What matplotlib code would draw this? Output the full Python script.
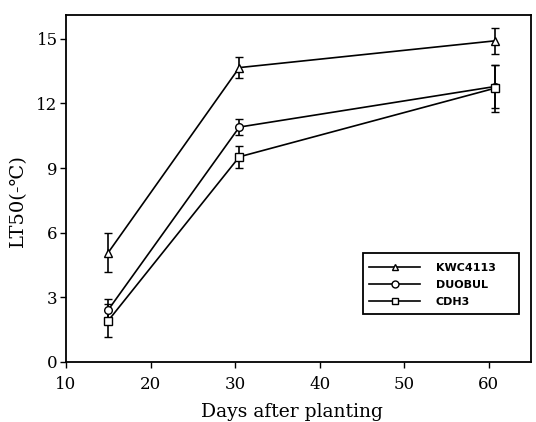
import matplotlib
matplotlib.use("Agg")
import matplotlib.pyplot as plt
from matplotlib.lines import Line2D
from matplotlib.patches import Rectangle

days_kwc = [15, 30.5, 60.7]
days_duo = [15, 30.5, 60.7]
days_cdh = [15, 30.5, 60.7]
kwc4113 = [5.08, 13.66, 14.9]
kwc4113_err = [0.9, 0.49, 0.6]
duobul = [2.42, 10.9, 12.78]
duobul_err = [0.5, 0.37, 1.0]
cdh3 = [1.92, 9.52, 12.7]
cdh3_err = [0.77, 0.5, 1.1]
labels = ["KWC4113", "DUOBUL", "CDH3"]
xticks = [10, 20, 30, 40, 50, 60]
yticks = [0, 3, 6, 9, 12, 15]

serif = ["DejaVu Serif"]
W, H = 536, 422
L, R, T, B = 66, 531, 15, 362

fig = plt.figure(figsize=(W/100, H/100), dpi=100)
ax = fig.add_axes([L/W, 1-B/H, (R-L)/W, (B-T)/H])

def ax_frac(px, py):
    return (px-L)/(R-L), (B-py)/(B-T)

markers = ["^", "o", "s"]
series = [(days_kwc, kwc4113, kwc4113_err),
          (days_duo, duobul, duobul_err),
          (days_cdh, cdh3, cdh3_err)]
handles = []
for (x, y, e), m, lab in zip(series, markers, labels):
    ax.errorbar(x, y, yerr=e, color="black", lw=1.2, marker=m, markersize=5.5,
                markerfacecolor="white", markeredgecolor="black", markeredgewidth=1.0,
                capsize=3, elinewidth=1.2, capthick=1.2)
    handles.append(Line2D([], [], color="black", lw=1.2, marker=m, markersize=5,
                          markerfacecolor="white", markeredgecolor="black",
                          markeredgewidth=1.0, label=lab))

ax.set_xlim(10, 65)
ax.set_ylim(0, 16.1)
ax.set_xticks(xticks)
ax.set_yticks(yticks)
ax.tick_params(direction="out", length=4, width=1, labelsize=12)
ax.tick_params(axis="x", pad=6)
ax.tick_params(axis="y", pad=2)
for t in ax.get_xticklabels() + ax.get_yticklabels():
    t.set_family(serif)
for s in ax.spines.values():
    s.set_linewidth(1.3)
ax.set_xlabel("Days after planting", family=serif, fontsize=13.5)
ax.set_ylabel("LT50(-℃)", family=serif, fontsize=14)
ax.xaxis.set_label_coords(*ax_frac(292, 412))
ax.yaxis.set_label_coords(*ax_frac(18, 201))
ax.xaxis.label.set_va("center")
ax.yaxis.label.set_va("center")

# legend frame
x0, y0 = ax_frac(363, 314)
x1, y1 = ax_frac(519, 253)
ax.add_patch(Rectangle((x0, y0), x1-x0, y1-y0, transform=ax.transAxes,
                       facecolor="white", edgecolor="black", lw=1.3, zorder=4))

leg = ax.legend(handles=handles, loc="upper left",
                bbox_to_anchor=ax_frac(369, 263), frameon=False,
                handlelength=4.6,
                prop={"family": "DejaVu Sans", "weight": "bold", "size": 8},
                borderpad=0, labelspacing=0.62, handletextpad=1.4, borderaxespad=0)
leg.set_zorder(5)

fig.savefig("out.png", dpi=100)
